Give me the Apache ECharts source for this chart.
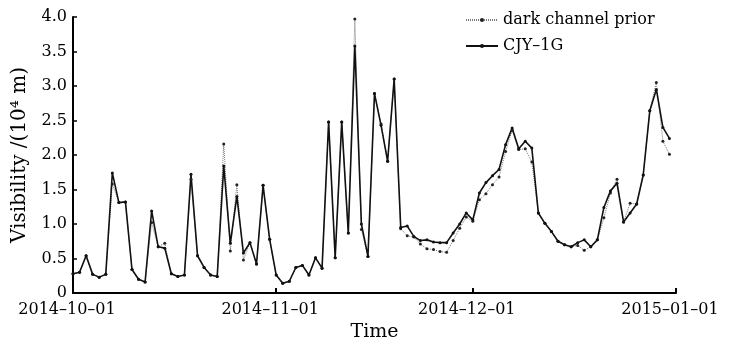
<!DOCTYPE html>
<html>
<head>
<meta charset="utf-8">
<script src="https://cdn.jsdelivr.net/npm/echarts@6/dist/echarts.min.js"></script>
<style>
  html, body { margin: 0; padding: 0; background: #fff; }
  #main { width: 731px; height: 340px; }
</style>
</head>
<body>
<div id="main"></div>
<script>
// daily values, 2014-10-01 .. 2014-12-31
const startDay = [2014, 9, 1];
const cjyValues = [
  0.28, 0.30, 0.54, 0.27, 0.23, 0.27, 1.74, 1.31, 1.32, 0.34,
  0.20, 0.16, 1.19, 0.67, 0.65, 0.28, 0.24, 0.26, 1.72, 0.54,
  0.37, 0.26, 0.24, 1.84, 0.72, 1.40, 0.58, 0.73, 0.42, 1.56,
  0.78, 0.26, 0.14, 0.17, 0.37, 0.40, 0.26, 0.51, 0.36, 2.48,
  0.51, 2.48, 0.87, 3.58, 1.00, 0.53, 2.89, 2.43, 1.91, 3.10,
  0.95, 0.97, 0.82, 0.76, 0.77, 0.74, 0.73, 0.73, 0.87, 1.00,
  1.16, 1.06, 1.45, 1.60, 1.70, 1.79, 2.15, 2.39, 2.09, 2.20,
  2.10, 1.16, 1.01, 0.89, 0.75, 0.70, 0.67, 0.73, 0.77, 0.67,
  0.77, 1.24, 1.48, 1.59, 1.03, 1.16, 1.29, 1.71, 2.64, 2.95,
  2.40, 2.24
];
const darkValues = [
  0.28, 0.30, 0.54, 0.27, 0.23, 0.27, 1.58, 1.31, 1.32, 0.34,
  0.20, 0.16, 1.02, 0.67, 0.72, 0.28, 0.24, 0.26, 1.65, 0.54,
  0.37, 0.26, 0.24, 2.16, 0.61, 1.57, 0.48, 0.73, 0.42, 1.56,
  0.78, 0.26, 0.14, 0.17, 0.37, 0.40, 0.26, 0.51, 0.36, 2.48,
  0.51, 2.48, 0.87, 3.97, 0.92, 0.53, 2.89, 2.45, 1.91, 3.10,
  0.93, 0.83, 0.81, 0.71, 0.64, 0.63, 0.60, 0.59, 0.76, 0.94,
  1.10, 1.04, 1.35, 1.44, 1.57, 1.68, 2.05, 2.36, 2.08, 2.09,
  1.90, 1.16, 1.01, 0.89, 0.75, 0.70, 0.67, 0.69, 0.62, 0.67,
  0.77, 1.09, 1.45, 1.65, 1.03, 1.30, 1.29, 1.71, 2.64, 3.05,
  2.20, 2.01
];
const seriesNames = ['dark channel prior', 'CJY\u20131G'];

const font = 'DejaVu Serif';
const day = 86400000;

function pairs(vals) {
  return vals.map(function (v, i) {
    return [new Date(startDay[0], startDay[1], startDay[2] + i).getTime(), v];
  });
}
function pad(n) { return n < 10 ? '0' + n : '' + n; }

const chart = echarts.init(document.getElementById('main'));
chart.setOption({
  animation: false,
  textStyle: { fontFamily: font, color: '#000' },
  grid: { left: 73, right: 55, top: 17, bottom: 47, containLabel: false, outerBoundsMode: 'none' },
  legend: {
    orient: 'vertical',
    left: 460,
    top: 7,
    itemWidth: 32,
    itemHeight: 5,
    itemGap: 10,
    textStyle: { fontFamily: font, fontSize: 16, color: '#000' },
    data: seriesNames
  },
  xAxis: {
    type: 'time',
    min: new Date(2014, 9, 1).getTime(),
    max: new Date(2015, 0, 1).getTime(),
    minInterval: 28 * day,
    maxInterval: 31 * day,
    name: 'Time',
    nameLocation: 'middle',
    nameGap: 29,
    nameTextStyle: { fontFamily: font, fontSize: 19, color: '#000' },
    axisLine: { lineStyle: { color: '#000', width: 2 } },
    axisTick: { inside: true, length: 5, lineStyle: { color: '#000', width: 2 } },
    axisLabel: {
      fontFamily: font, fontSize: 16, color: '#000', margin: 9,
      padding: [0, 12, 0, 0],
      showMinLabel: true, showMaxLabel: true,
      formatter: function (val) {
        const d = new Date(val);
        return d.getFullYear() + '\u2013' + pad(d.getMonth() + 1) + '\u2013' + pad(d.getDate());
      }
    },
    splitLine: { show: false }
  },
  yAxis: {
    type: 'value',
    min: 0,
    max: 4,
    interval: 0.5,
    name: 'Visibility /(10\u2074 m)',
    nameLocation: 'middle',
    nameGap: 43,
    nameTextStyle: { fontFamily: font, fontSize: 20, color: '#000' },
    axisLine: { show: true, lineStyle: { color: '#000', width: 2 } },
    axisTick: { show: true, inside: true, length: 4, lineStyle: { color: '#000', width: 1.5 } },
    axisLabel: {
      fontFamily: font, fontSize: 16, color: '#000', margin: 6,
      formatter: function (v) { return v === 0 ? '0' : v.toFixed(1); }
    },
    splitLine: { show: false }
  },
  series: [
    {
      name: seriesNames[0],
      type: 'line',
      data: pairs(darkValues),
      symbol: 'circle',
      symbolSize: 3,
      itemStyle: { color: '#222' },
      lineStyle: { color: '#777', width: 1, type: [1, 1] }
    },
    {
      name: seriesNames[1],
      type: 'line',
      data: pairs(cjyValues),
      symbol: 'circle',
      symbolSize: 3,
      itemStyle: { color: '#111' },
      lineStyle: { color: '#111', width: 1.6 }
    }
  ]
});
</script>
</body>
</html>
